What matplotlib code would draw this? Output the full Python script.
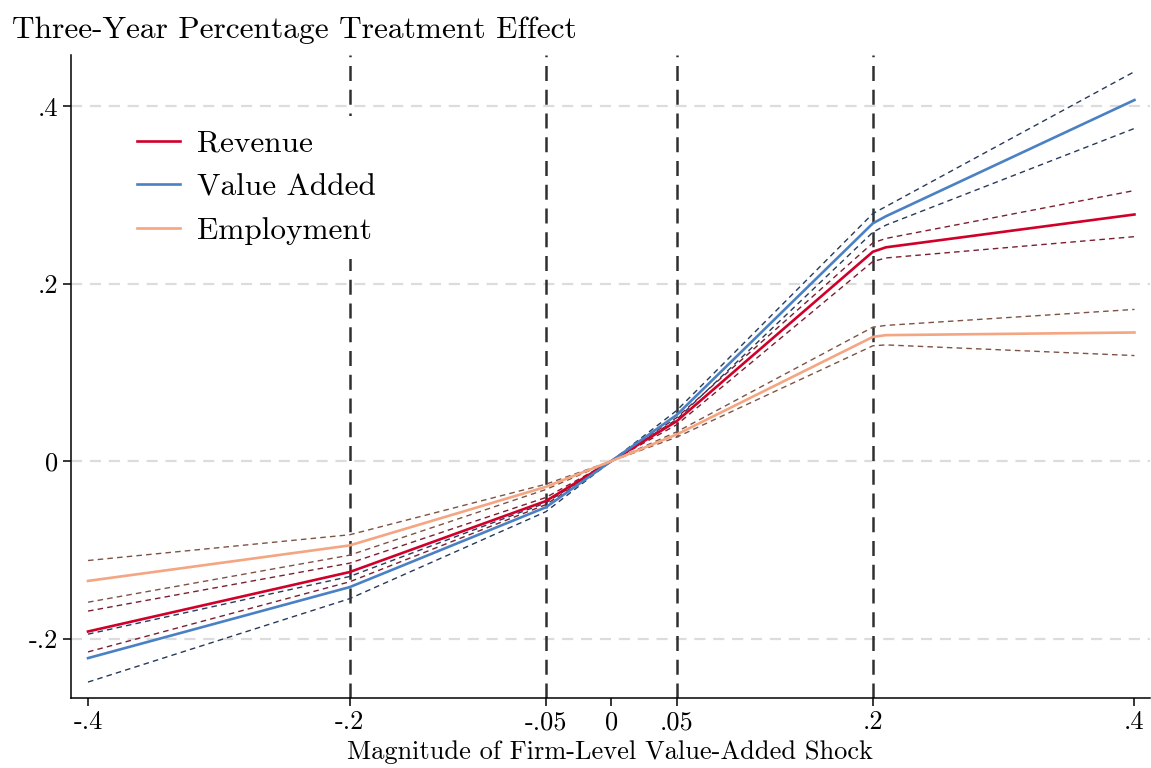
import matplotlib
matplotlib.use("Agg")
import matplotlib.pyplot as plt

plt.rcParams["font.family"] = ["cmr10", "DejaVu Serif"]
plt.rcParams["axes.unicode_minus"] = False
plt.rcParams["mathtext.fontset"] = "cm"

# shock grid and estimated effects
x_shock = [-0.4, -0.2, -0.05, 0.0, 0.05, 0.2, 0.21, 0.4]

revenue = [-0.192, -0.125, -0.045, 0.0, 0.045, 0.236, 0.241, 0.278]
revenue_hi = [-0.169, -0.115, -0.041, 0.0, 0.049, 0.246, 0.251, 0.305]
revenue_lo = [-0.215, -0.136, -0.049, 0.0, 0.041, 0.225, 0.229, 0.253]

value_added = [-0.222, -0.142, -0.052, 0.0, 0.052, 0.268, 0.276, 0.407]
value_added_hi = [-0.195, -0.130, -0.047, 0.0, 0.057, 0.279, 0.287, 0.439]
value_added_lo = [-0.249, -0.155, -0.057, 0.0, 0.047, 0.258, 0.266, 0.375]

employment = [-0.135, -0.095, -0.029, 0.0, 0.030, 0.140, 0.142, 0.145]
employment_hi = [-0.112, -0.083, -0.026, 0.0, 0.033, 0.151, 0.153, 0.171]
employment_lo = [-0.159, -0.106, -0.032, 0.0, 0.027, 0.130, 0.131, 0.119]

knots = [-0.2, -0.05, 0.05, 0.2]
x_ticks = [-0.4, -0.2, -0.05, 0.0, 0.05, 0.2, 0.4]
x_tick_labels = ["-.4", "-.2", "-.05", "0", ".05", ".2", ".4"]
y_ticks = [-0.2, 0.0, 0.2, 0.4]
y_tick_labels = ["-.2", "0", ".2", ".4"]

fig = plt.figure(figsize=(11.51, 7.68), dpi=100)
ax = fig.add_axes([0.0617, 0.0911, 0.937, 0.837])

for yv in y_ticks:
    ax.axhline(yv, color="#dcdcdc", lw=1.6, dashes=(5, 3.5), zorder=1)
for xv in knots:
    ax.axvline(xv, color="#303030", lw=1.8, dashes=(6, 3.5), zorder=2)

series = [
    ("Revenue", revenue, revenue_hi, revenue_lo, "#d0002a", "#7a1f30"),
    ("Value Added", value_added, value_added_hi, value_added_lo, "#4a80c4", "#263a5c"),
    ("Employment", employment, employment_hi, employment_lo, "#f4a582", "#7d5344"),
]
for name, mid, hi, lo, col, ci_col in series:
    ax.plot(x_shock, hi, color=ci_col, lw=1.0, dashes=(4, 3), zorder=3)
    ax.plot(x_shock, lo, color=ci_col, lw=1.0, dashes=(4, 3), zorder=3)
    ax.plot(x_shock, mid, color=col, lw=1.9, label=name, zorder=4)

ax.set_xlim(-0.413, 0.4115)
ax.set_ylim(-0.267, 0.4575)
ax.set_xticks(x_ticks)
ax.set_xticklabels(x_tick_labels)
ax.set_yticks(y_ticks)
ax.set_yticklabels(y_tick_labels)
ax.tick_params(labelsize=19, length=6, width=1.1, pad=3)
for side in ("top", "right"):
    ax.spines[side].set_visible(False)
for side in ("left", "bottom"):
    ax.spines[side].set_linewidth(1.1)

ax.set_xlabel("Magnitude of Firm-Level Value-Added Shock", fontsize=19, labelpad=4)
fig.text(0.010, 0.961, "Three-Year Percentage Treatment Effect", fontsize=22.6,
         ha="left", va="center")

leg = ax.legend(loc="upper left", bbox_to_anchor=(0.034, 0.93), fontsize=22.5,
                frameon=True, framealpha=1, edgecolor="none", facecolor="white",
                handlelength=1.35, handletextpad=0.55, labelspacing=0.5,
                borderpad=0.45)
leg.set_zorder(5)

fig.savefig("out.png", dpi=100)
